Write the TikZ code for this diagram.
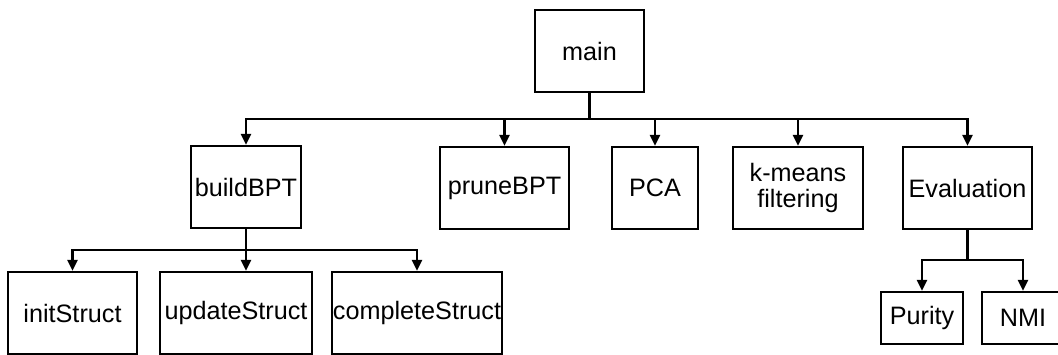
\documentclass[tikz,border=0pt]{standalone}
\usepackage{fontspec}
\setmainfont{Liberation Sans}
\usetikzlibrary{arrows.meta}
\begin{document}
\begin{tikzpicture}[x=1pt,y=-1pt,
  box/.style={draw, line width=2.5pt, rectangle, inner sep=0pt,
    minimum height=82pt, align=center,
    font=\fontsize{25.2}{26}\selectfont},
  smallbox/.style={box, minimum height=52pt},
  link/.style={line width=2.5pt},
  arrow/.style={link, -{Triangle[length=11pt,width=10pt]}}]
\clip (0,0) rectangle (1058,354);
\fill[white] (0,0) rectangle (1058,354);

% top level
\node[box, minimum width=109pt] (main) at (589.5,51) {main};

% second level
\node[box, minimum width=110pt] (build) at (246,187) {buildBPT};
\node[box, minimum width=129pt] (prune) at (504.5,188) {pruneBPT};
\node[box, minimum width=86pt]  (pca)   at (655,188) {PCA};
\node[box, minimum width=130pt] (kmeans) at (798,188) {k-means\\filtering};
\node[box, minimum width=129pt] (eval)  at (967.5,188) {Evaluation};

% third level under buildBPT
\node[box, minimum width=129pt] (init)     at (72.5,313) {initStruct};
\node[box, minimum width=152pt] (update)   at (236,313) {updateStruct};
\node[box, minimum width=170pt] (complete) at (417,313) {completeStruct};

% third level under Evaluation
\node[smallbox, minimum width=82pt] (purity) at (922,318) {Purity};
\node[smallbox, minimum width=82pt] (nmi)    at (1023,318) {NMI};

% bus junctions
\coordinate (mbus) at (589.5,119);
\coordinate (bbus) at (246,250);
\coordinate (ebus) at (967.5,260);

% main -> second level
\draw[link] (main.south) -- (mbus);
\draw[arrow] (mbus) -| (build.north);
\draw[arrow] (mbus) -| (prune.north);
\draw[arrow] (mbus) -| (pca.north);
\draw[arrow] (mbus) -| (kmeans.north);
\draw[arrow] (mbus) -| (eval.north);

% buildBPT -> third level
\draw[link] (build.south) -- (bbus);
\draw[arrow] (bbus) -| (init.north);
\draw[arrow] (bbus) -- (bbus |- update.north);
\draw[arrow] (bbus) -| (complete.north);

% Evaluation -> third level
\draw[link] (eval.south) -- (ebus);
\draw[arrow] (ebus) -| (purity.north);
\draw[arrow] (ebus) -| (nmi.north);
\end{tikzpicture}
\end{document}
